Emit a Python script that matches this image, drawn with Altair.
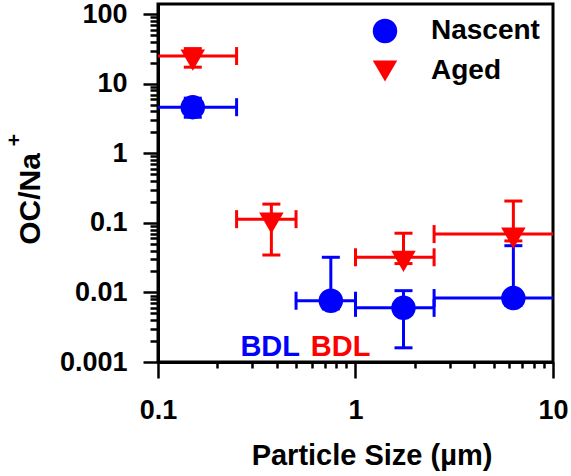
import altair as alt
import pandas as pd

FONT = "Liberation Sans"

series_names = ["Nascent", "Aged"]
series_colors = ["#0000FF", "#FF0000"]
series_shapes = ["circle", "triangle-down"]

# Nascent (blue circles)
nascent_x = [0.15, 0.75, 1.75, 6.3]
nascent_y = [4.6, 0.0076, 0.006, 0.0083]
nascent_xlo = [0.1, 0.5, 1.0, 2.5]
nascent_xhi = [0.25, 1.0, 2.5, 10.0]
nascent_ylo = [3.3, 0.0058, 0.0016, 0.0065]
nascent_yhi = [6.2, 0.032, 0.0106, 0.047]

# Aged (red triangles)
aged_x = [0.15, 0.375, 1.75, 6.3]
aged_y = [25.0, 0.113, 0.032, 0.069]
aged_xlo = [0.1, 0.25, 1.0, 2.5]
aged_xhi = [0.25, 0.5, 2.5, 10.0]
aged_ylo = [17.3, 0.0345, 0.026, 0.055]
aged_yhi = [32.0, 0.186, 0.071, 0.206]

# "BDL" annotations
bdl_text = ["BDL", "BDL"]
bdl_x = [0.37, 0.84]
bdl_y = [0.00122, 0.00122]
bdl_series = ["Nascent", "Aged"]

x_all_ticks = [m * d for d in [0.1, 1] for m in range(1, 10)] + [10]
y_all_ticks = [m * d for d in [0.001, 0.01, 0.1, 1, 10] for m in range(1, 10)] + [100]

frames = []
for name, xs, ys, xl, xh, yl, yh in [
    ("Nascent", nascent_x, nascent_y, nascent_xlo, nascent_xhi, nascent_ylo, nascent_yhi),
    ("Aged", aged_x, aged_y, aged_xlo, aged_xhi, aged_ylo, aged_yhi),
]:
    frames.append(pd.DataFrame({"series": name, "x": xs, "y": ys,
                                "xlo": xl, "xhi": xh, "ylo": yl, "yhi": yh}))
df = pd.concat(frames, ignore_index=True)
bdl_df = pd.DataFrame({"text": bdl_text, "x": bdl_x, "y": bdl_y, "series": bdl_series})

decade = "abs(log(datum.value)/LN10 - round(log(datum.value)/LN10)) < 0.001"

xscale = alt.Scale(type="log", domain=[0.1, 10], nice=False)
yscale = alt.Scale(type="log", domain=[0.001, 140], nice=False)

common_axis = dict(
    labelFont=FONT, labelFontSize=27, labelFontWeight="bold", labelColor="black",
    titleFont=FONT, titleFontWeight="bold", titleColor="black",
    domainColor="black", domainWidth=3, tickColor="black", tickWidth=2.5,
    labelFlush=False, labelOverlap=False, labelBound=False, grid=False,
    labelExpr=f"{decade} ? format(datum.value, '~g') : ''",
    titleAlign="center", titleBaseline="alphabetic",
)

x_axis = alt.Axis(
    values=x_all_ticks, title="Particle Size (µm)", titleFontSize=29,
    tickSize={"condition": {"test": decade, "value": 16}, "value": 6},
    labelPadding=40, labelBaseline="alphabetic",
    titleX=213.5, titleY=102, **common_axis,
)
y_axis = alt.Axis(
    values=y_all_ticks, title="OC/Na", titleFontSize=30,
    tickSize={"condition": {"test": decade, "value": 15}, "value": 8},
    labelPadding=16,
    titleX=-118.5, titleY=194.5, titleAngle=270, **common_axis,
)

cscale = alt.Scale(domain=series_names, range=series_colors)
sscale = alt.Scale(domain=series_names, range=series_shapes)
legend = alt.Legend(orient="none", legendX=213, legendY=13, title=None, symbolSize=600,
                    labelFont=FONT, labelFontSize=28, labelFontWeight="bold", labelColor="black",
                    labelOffset=32, rowPadding=12, padding=0, symbolStrokeWidth=0, labelLimit=300)

base = alt.Chart(df)

def X(f):
    return alt.X(f, type="quantitative", scale=xscale, axis=x_axis)

def Y(f):
    return alt.Y(f, type="quantitative", scale=yscale, axis=y_axis)

layers = []
for name, color in zip(series_names, series_colors):
    sb = base.transform_filter(f"datum.series === '{name}'")
    c = alt.value(color)
    layers += [
        sb.mark_rule(strokeWidth=3).encode(x=X("xlo"), x2="xhi", y=Y("y"), color=c),
        sb.mark_rule(strokeWidth=3).encode(x=X("x"), y=Y("ylo"), y2="yhi", color=c),
        sb.transform_filter("datum.xlo > 0.1001").mark_tick(
            orient="vertical", size=18, thickness=3, opacity=1).encode(x=X("xlo"), y=Y("y"), color=c),
        sb.transform_filter("datum.xhi < 9.99").mark_tick(
            orient="vertical", size=18, thickness=3, opacity=1).encode(x=X("xhi"), y=Y("y"), color=c),
        sb.mark_tick(orient="horizontal", size=18, thickness=3, opacity=1).encode(
            x=X("x"), y=Y("ylo"), color=c),
        sb.mark_tick(orient="horizontal", size=18, thickness=3, opacity=1).encode(
            x=X("x"), y=Y("yhi"), color=c),
    ]

pts = base.mark_point(
    filled=True, size=600, opacity=1,
    yOffset=alt.ExprRef("datum.series === 'Aged' ? 4 : 0"),
).encode(
    x=X("x"), y=Y("y"),
    color=alt.Color("series:N", scale=cscale, legend=legend),
    shape=alt.Shape("series:N", scale=sscale, legend=legend))

bdl_layers = []
for name, color in zip(series_names, series_colors):
    bdl_layers.append(alt.Chart(bdl_df).transform_filter(f"datum.series === '{name}'").mark_text(
        font=FONT, fontSize=29, fontWeight="bold", align="center", baseline="alphabetic",
        color=color).encode(x=X("x"), y=Y("y"), text="text:N"))

# superscript "+" of the y-axis title (Na⁺)
plus = alt.Chart(pd.DataFrame({"t": ["+"]})).mark_text(
    font=FONT, fontSize=21, fontWeight="bold", angle=270, align="center", baseline="middle",
    color="black").encode(text="t:N", x=alt.value(-143), y=alt.value(136))

chart = alt.layer(*layers, pts, *bdl_layers, plus).properties(
    width=395, height=358,
    autosize=alt.AutoSizeParams(type="none"),
    padding={"left": 158, "top": 4, "right": 18, "bottom": 114},
    background="white",
).configure_view(stroke="black", strokeWidth=3)

chart.save("out.html", embed_options={"renderer": "svg", "actions": False})
